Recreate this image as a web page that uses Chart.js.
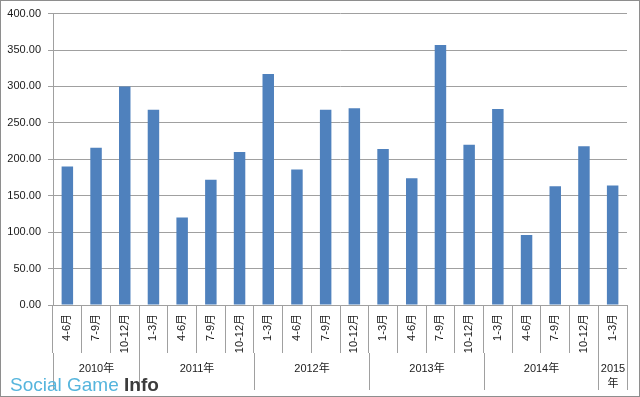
<!DOCTYPE html>
<html>
<head>
<meta charset="utf-8">
<script src="https://cdn.jsdelivr.net/npm/chart.js@4"></script>
<style>
  body { margin: 0; background: #fff; }
  #wrap { position: relative; width: 640px; height: 397px; }
  #frame { position: absolute; left: 0; top: 0; width: 638px; height: 395px; border: 1px solid #8e8e8e; pointer-events: none; }
  #logo { position: absolute; left: 10px; top: 375px; font-family: 'Liberation Sans', Arial, sans-serif; font-size: 19px; line-height: 19px; color: #55b5dd; white-space: nowrap; }
  #logo b { color: #3c3c3c; }
</style>
</head>
<body>
<div id="wrap">
  <canvas id="myChart" width="640" height="397"></canvas>
  <div id="frame"></div>
  <div id="logo">Social Game <b>Info</b></div>
</div>
<script>
// quarter labels (lower axis row)
const quarters = ['4-6月', '7-9月', '10-12月',
  '1-3月', '4-6月', '7-9月', '10-12月',
  '1-3月', '4-6月', '7-9月', '10-12月',
  '1-3月', '4-6月', '7-9月', '10-12月',
  '1-3月', '4-6月', '7-9月', '10-12月',
  '1-3月'];
// bar values
const values = [190, 216, 300,
  268, 120, 172, 210,
  317, 186, 268, 270,
  214, 174, 357, 220,
  269, 96, 163, 218,
  164];
// year labels (upper axis row) and how many quarters each covers
const years = ['2010年', '2011年', '2012年', '2013年', '2014年', ['2015', '年']];
const yearSpans = [3, 4, 4, 4, 4, 1];

const fontFamily = "'Liberation Sans', 'Noto Sans CJK JP', Arial, sans-serif";
const lineColor = '#a0a0a0';

// draws the second row of the x axis (years) with separators
const yearRow = {
    id: 'yearRow',
    afterDraw(chart) {
        const x = chart.scales.x;
        const ctx = chart.ctx;
        const sepTop = x.top + 48;
        const sepBottom = 390;
        ctx.save();
        ctx.strokeStyle = lineColor;
        ctx.lineWidth = 1;
        ctx.fillStyle = '#1a1a1a';
        ctx.font = '11px ' + fontFamily;
        ctx.textAlign = 'center';
        ctx.textBaseline = 'middle';
        let start = 0;
        years.forEach((label, i) => {
            const end = start + yearSpans[i];
            const left = Math.round(x.getPixelForValue(start - 0.5)) + 0.5;
            const right = Math.round(x.getPixelForValue(end - 0.5)) + 0.5;
            ctx.beginPath();
            ctx.moveTo(left, sepTop);
            ctx.lineTo(left, sepBottom);
            ctx.moveTo(right, sepTop);
            ctx.lineTo(right, sepBottom);
            ctx.stroke();
            const lines = Array.isArray(label) ? label : [label];
            lines.forEach((t, j) => {
                ctx.fillText(t, (left + right) / 2, 369 + j * 15);
            });
            start = end;
        });
        ctx.restore();
    }
};

const ctx = document.getElementById('myChart').getContext('2d');
new Chart(ctx, {
    type: 'bar',
    data: {
        labels: quarters,
        datasets: [{
            data: values,
            backgroundColor: '#4f81bd',
            borderWidth: 0,
            barPercentage: 0.4,
            categoryPercentage: 1
        }]
    },
    options: {
        responsive: false,
        animation: false,
        layout: { padding: { left: 0, right: 13, top: 12, bottom: 0 } },
        plugins: {
            legend: { display: false },
            tooltip: { enabled: false }
        },
        scales: {
            x: {
                afterFit: s => { s.height = 92; },
                grid: {
                    offset: true,
                    drawOnChartArea: false,
                    tickLength: 48,
                    color: lineColor
                },
                border: { color: lineColor },
                ticks: {
                    autoSkip: false,
                    minRotation: 90,
                    maxRotation: 90,
                    padding: -39,
                    color: '#1a1a1a',
                    font: { family: fontFamily, size: 11 }
                }
            },
            y: {
                min: 0,
                max: 400,
                afterFit: s => { s.width = 53; },
                grid: { color: lineColor, tickLength: 5 },
                border: { color: lineColor },
                ticks: {
                    stepSize: 50,
                    padding: 7,
                    color: '#1a1a1a',
                    font: { family: fontFamily, size: 11 },
                    callback: v => v.toFixed(2)
                }
            }
        }
    },
    plugins: [yearRow]
});
</script>
</body>
</html>
